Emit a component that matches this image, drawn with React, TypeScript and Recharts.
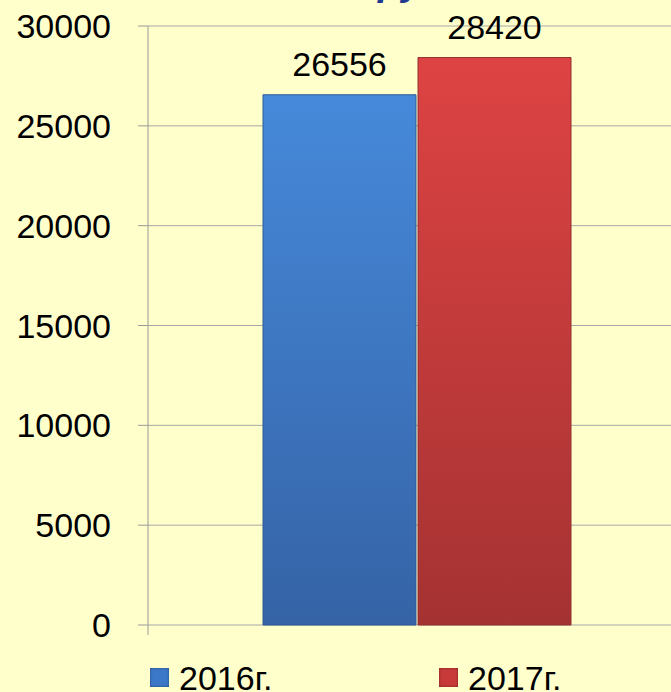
import React from 'react';
import { BarChart, Bar, XAxis, YAxis, CartesianGrid, LabelList } from 'recharts';

const categories = [''];
const seriesNames = ['2016г.', '2017г.'];
const values2016 = [26556];
const values2017 = [28420];
const yTicks = [0, 5000, 10000, 15000, 20000, 25000, 30000];

const data = categories.map((name, i) => ({
  name,
  y2016: values2016[i],
  y2017: values2017[i],
}));

const legendColors = ['#3C78C8', '#C83A3A'];
const font = '"Liberation Sans", Arial, sans-serif';

// y tick with the small extra stub of the axis below zero
const YTick = (props: any) => {
  const { x, y, payload } = props;
  return (
    <g>
      <text x={x} y={y} dy={12} textAnchor="end" fontSize={34} fontFamily={font} fill="#000">
        {payload.value}
      </text>
      {payload.value === 0 && <line x1={148} x2={148} y1={y} y2={y + 10} stroke="#9A9A9A" />}
    </g>
  );
};

const App: React.FC = () => {
  return (
    <div
      style={{
        position: 'fixed',
        left: 0,
        top: 0,
        width: 671,
        height: 692,
        background: '#FFFFCC',
        overflow: 'hidden',
        fontFamily: font,
      }}
    >
      <div
        style={{
          position: 'absolute',
          left: 378,
          top: -39,
          fontSize: 40,
          lineHeight: '40px',
          fontWeight: 'bold',
          fontStyle: 'italic',
          color: '#1F3C91',
        }}
      >
        ру
      </div>
      <BarChart
        width={671}
        height={692}
        data={data}
        margin={{ top: 26, right: 0, left: 0, bottom: 67 }}
        barCategoryGap={101}
        barGap={2}
      >
        <defs>
          <linearGradient id="gBlue" x1="0" y1="0" x2="0" y2="1">
            <stop offset="0%" stopColor="#4689DA" />
            <stop offset="100%" stopColor="#3563A6" />
          </linearGradient>
          <linearGradient id="gRed" x1="0" y1="0" x2="0" y2="1">
            <stop offset="0%" stopColor="#DE4343" />
            <stop offset="100%" stopColor="#A53232" />
          </linearGradient>
        </defs>
        <CartesianGrid vertical={false} stroke="#A8A8A8" />
        <XAxis dataKey="name" hide padding={{ left: 14, right: 0 }} />
        <YAxis
          width={148}
          domain={[0, 30000]}
          ticks={yTicks}
          interval={0}
          tickSize={10}
          tickMargin={27}
          tick={<YTick />}
          axisLine={{ stroke: '#9A9A9A' }}
          tickLine={{ stroke: '#9A9A9A' }}
        />
        <Bar dataKey="y2016" name={seriesNames[0]} fill="url(#gBlue)" stroke="#2F5A96" strokeWidth={1} isAnimationActive={false}>
          <LabelList dataKey="y2016" position="top" offset={19} fontSize={34} fontFamily={font} fill="#000" />
        </Bar>
        <Bar dataKey="y2017" name={seriesNames[1]} fill="url(#gRed)" stroke="#933030" strokeWidth={1} isAnimationActive={false}>
          <LabelList dataKey="y2017" position="top" offset={19} fontSize={34} fontFamily={font} fill="#000" />
        </Bar>
      </BarChart>
      {seriesNames.map((s, i) => (
        <div
          key={s}
          style={{
            position: 'absolute',
            left: i === 0 ? 150 : 439,
            top: 661,
            display: 'flex',
            alignItems: 'flex-start',
          }}
        >
          <div
            style={{
              width: 19,
              height: 19,
              marginTop: 7,
              background: legendColors[i],
              boxShadow: 'inset 0 0 3px rgba(0,0,0,0.4)',
            }}
          />
          <span style={{ marginLeft: 10, fontSize: 34, lineHeight: '34px', color: '#000' }}>{s}</span>
        </div>
      ))}
    </div>
  );
};

export default App;
